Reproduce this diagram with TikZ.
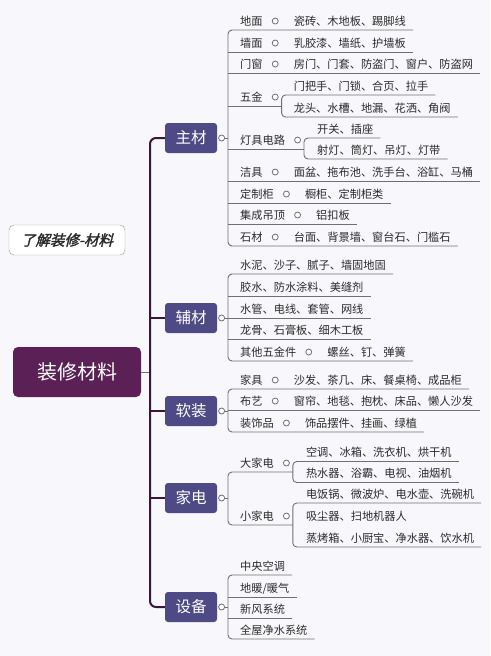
\documentclass[tikz,border=0pt]{standalone}
\usepackage{fontspec}
\setmainfont{Noto Sans CJK SC}
\newfontfamily\titlefont[FakeSlant=0.25,FakeBold=2]{Noto Sans CJK SC}
\usetikzlibrary{positioning}
\definecolor{bgcol}{HTML}{F8F7FC}
\definecolor{rootcol}{HTML}{5B2156}
\definecolor{maincol}{HTML}{4E4A86}
\definecolor{trunkcol}{HTML}{3C1638}
\definecolor{linecol}{HTML}{707070}
\definecolor{textcol}{HTML}{2B2B2B}
\tikzset{
  rootbox/.style={fill=rootcol, rounded corners=5pt, text=white, minimum width=128pt, minimum height=50pt, font=\fontsize{20}{24}\selectfont},
  mainbox/.style={fill=maincol, rounded corners=3pt, text=white, minimum width=52pt, minimum height=30pt, inner sep=0pt, font=\fontsize{15.5}{18}\selectfont},
  titlebox/.style={draw=black!40, fill=white, rounded corners=5pt, minimum width=116pt, minimum height=30pt, text=textcol, font=\titlefont\fontsize{14.5}{17}\selectfont},
  item/.style={anchor=south west, inner xsep=0pt, inner ysep=3pt, text height=10pt, text depth=1.5pt, text=textcol, font=\fontsize{11.2}{13}\selectfont},
  fold/.style={circle, draw=linecol, fill=white, line width=0.8pt, inner sep=0pt, minimum size=6pt},
  branch/.style={draw=linecol, line width=0.9pt, rounded corners=4pt},
  trunk/.style={draw=trunkcol, line width=2pt, rounded corners=6pt},
}
\begin{document}
\begin{tikzpicture}[x=1pt,y=-1pt]
  \fill[bgcol] (0,0) rectangle (490,656);
  \useasboundingbox (0,0) rectangle (490,656);

  % root, title and main topics
  \node[titlebox] (title) at (67,240) {了解装修-材料};
  \node[rootbox] (root) at (77,372) {装修材料};
  \node[mainbox] (zhucai) at (191,138) {主材};
  \node[mainbox] (fucai) at (191,318) {辅材};
  \node[mainbox] (ruanzhuang) at (191,411) {软装};
  \node[mainbox] (jiadian) at (191,498) {家电};
  \node[mainbox] (shebei) at (191,607) {设备};
  \coordinate (trunk) at (150,0);
  \draw[branch] (root.east) -- (trunk |- root.east);
  \draw[trunk] (zhucai.west) -- (trunk |- zhucai.west) -- (trunk |- shebei.west) -- (shebei.west);
  \draw[trunk] (trunk |- fucai.west) -- (fucai.west);
  \draw[trunk] (trunk |- ruanzhuang.west) -- (ruanzhuang.west);
  \draw[trunk] (trunk |- jiadian.west) -- (jiadian.west);

  % zhucai
  \node[fold, right=1pt of zhucai] (zhucai-f) {};
  \coordinate (zc) at (228,138);
  \draw[branch] (zhucai-f) -- (zc);
  \node[item] (dimian) at (240,30) {地面};
  \node[fold, right=9pt of dimian] (dimian-f) {};
  \node[item, right=15pt of dimian-f] (dimian-l) {瓷砖、木地板、踢脚线};
  \node[item] (qiangmian) at (240,52) {墙面};
  \node[fold, right=9pt of qiangmian] (qiangmian-f) {};
  \node[item, right=15pt of qiangmian-f] (qiangmian-l) {乳胶漆、墙纸、护墙板};
  \node[item] (menchuang) at (240,73) {门窗};
  \node[fold, right=9pt of menchuang] (menchuang-f) {};
  \node[item, right=15pt of menchuang-f] (menchuang-l) {房门、门套、防盗门、窗户、防盗网};
  \node[item] (wujin) at (240,106) {五金};
  \node[fold, right=9pt of wujin] (wujin-f) {};
  \coordinate (wj) at ([xshift=3pt]wujin-f.east);
  \node[item] (wujin-a) at ([xshift=12pt,yshift=11pt]wj |- wujin.south) {门把手、门锁、合页、拉手};
  \node[item] (wujin-b) at ([xshift=12pt,yshift=-11pt]wj |- wujin.south) {龙头、水槽、地漏、花洒、角阀};
  \node[item] (dengju) at (240,149) {灯具电路};
  \node[fold, right=9pt of dengju] (dengju-f) {};
  \coordinate (dj) at ([xshift=3pt]dengju-f.east);
  \node[item] (dengju-a) at ([xshift=13pt,yshift=11pt]dj |- dengju.south) {开关、插座};
  \node[item] (dengju-b) at ([xshift=13pt,yshift=-10pt]dj |- dengju.south) {射灯、筒灯、吊灯、灯带};
  \node[item] (jieju) at (240,181) {洁具};
  \node[fold, right=9pt of jieju] (jieju-f) {};
  \node[item, right=15pt of jieju-f] (jieju-l) {面盆、拖布池、洗手台、浴缸、马桶};
  \node[item] (dingzhi) at (240,203) {定制柜};
  \node[fold, right=9pt of dingzhi] (dingzhi-f) {};
  \node[item, right=15pt of dingzhi-f] (dingzhi-l) {橱柜、定制柜类};
  \node[item] (diaoding) at (240,224) {集成吊顶};
  \node[fold, right=9pt of diaoding] (diaoding-f) {};
  \node[item, right=15pt of diaoding-f] (diaoding-l) {铝扣板};
  \node[item] (shicai) at (240,246) {石材};
  \node[fold, right=9pt of shicai] (shicai-f) {};
  \node[item, right=15pt of shicai-f] (shicai-l) {台面、背景墙、窗台石、门槛石};
  \draw[branch] ([xshift=7pt]dimian-l.south east) -- (zc |- dimian.south) -- (zc |- shicai.south) -- ([xshift=7pt]shicai-l.south east);
  \draw[branch] (zc |- qiangmian.south) -- ([xshift=7pt]qiangmian-l.south east);
  \draw[branch] (zc |- menchuang.south) -- ([xshift=7pt]menchuang-l.south east);
  \draw[branch] (zc |- wujin.south) -- (wj |- wujin.south);
  \draw[branch] ([xshift=7pt]wujin-a.south east) -- (wj |- wujin-a.south) -- (wj |- wujin-b.south) -- ([xshift=7pt]wujin-b.south east);
  \draw[branch] (zc |- dengju.south) -- (dj |- dengju.south);
  \draw[branch] ([xshift=7pt]dengju-a.south east) -- (dj |- dengju-a.south) -- (dj |- dengju-b.south) -- ([xshift=7pt]dengju-b.south east);
  \draw[branch] (zc |- jieju.south) -- ([xshift=7pt]jieju-l.south east);
  \draw[branch] (zc |- dingzhi.south) -- ([xshift=7pt]dingzhi-l.south east);
  \draw[branch] (zc |- diaoding.south) -- ([xshift=7pt]diaoding-l.south east);

  % fucai
  \node[fold, right=1pt of fucai] (fucai-f) {};
  \coordinate (fc) at (228,318);
  \draw[branch] (fucai-f) -- (fc);
  \node[item] (shuini) at (240,274) {水泥、沙子、腻子、墙固地固};
  \node[item] (jiaoshui) at (240,296) {胶水、防水涂料、美缝剂};
  \node[item] (shuiguan) at (240,318) {水管、电线、套管、网线};
  \node[item] (longgu) at (240,339) {龙骨、石膏板、细木工板};
  \node[item] (wujinjian) at (240,361) {其他五金件};
  \node[fold, right=9pt of wujinjian] (wujinjian-f) {};
  \node[item, right=15pt of wujinjian-f] (wujinjian-l) {螺丝、钉、弹簧};
  \draw[branch] ([xshift=7pt]shuini.south east) -- (fc |- shuini.south) -- (fc |- wujinjian.south) -- ([xshift=7pt]wujinjian-l.south east);
  \draw[branch] (fc |- jiaoshui.south) -- ([xshift=7pt]jiaoshui.south east);
  \draw[branch] (fc |- shuiguan.south) -- ([xshift=7pt]shuiguan.south east);
  \draw[branch] (fc |- longgu.south) -- ([xshift=7pt]longgu.south east);

  % ruanzhuang
  \node[fold, right=1pt of ruanzhuang] (ruanzhuang-f) {};
  \coordinate (rz) at (228,411);
  \draw[branch] (ruanzhuang-f) -- (rz);
  \node[item] (jiaju) at (240,389) {家具};
  \node[fold, right=9pt of jiaju] (jiaju-f) {};
  \node[item, right=15pt of jiaju-f] (jiaju-l) {沙发、茶几、床、餐桌椅、成品柜};
  \node[item] (buyi) at (240,410) {布艺};
  \node[fold, right=9pt of buyi] (buyi-f) {};
  \node[item, right=15pt of buyi-f] (buyi-l) {窗帘、地毯、抱枕、床品、懒人沙发};
  \node[item] (shipin) at (240,432) {装饰品};
  \node[fold, right=9pt of shipin] (shipin-f) {};
  \node[item, right=15pt of shipin-f] (shipin-l) {饰品摆件、挂画、绿植};
  \draw[branch] ([xshift=7pt]jiaju-l.south east) -- (rz |- jiaju.south) -- (rz |- shipin.south) -- ([xshift=7pt]shipin-l.south east);
  \draw[branch] (rz |- buyi.south) -- ([xshift=7pt]buyi-l.south east);

  % jiadian
  \node[fold, right=1pt of jiadian] (jiadian-f) {};
  \coordinate (jd) at (228,498);
  \draw[branch] (jiadian-f) -- (jd);
  \node[item] (dajiadian) at (240,472) {大家电};
  \node[fold, right=9pt of dajiadian] (dajiadian-f) {};
  \coordinate (dj2) at ([xshift=3pt]dajiadian-f.east);
  \node[item] (dajiadian-a) at ([xshift=13pt,yshift=10.5pt]dj2 |- dajiadian.south) {空调、冰箱、洗衣机、烘干机};
  \node[item] (dajiadian-b) at ([xshift=13pt,yshift=-10.5pt]dj2 |- dajiadian.south) {热水器、浴霸、电视、油烟机};
  \node[item] (xiaojiadian) at (240,525) {小家电};
  \node[fold, right=9pt of xiaojiadian] (xiaojiadian-f) {};
  \coordinate (xj) at ([xshift=3pt]xiaojiadian-f.east);
  \node[item] (xiaojiadian-a) at ([xshift=13pt,yshift=22pt]xj |- xiaojiadian.south) {电饭锅、微波炉、电水壶、洗碗机};
  \node[item] (xiaojiadian-b) at ([xshift=13pt]xj |- xiaojiadian.south) {吸尘器、扫地机器人};
  \node[item] (xiaojiadian-c) at ([xshift=13pt,yshift=-22pt]xj |- xiaojiadian.south) {蒸烤箱、小厨宝、净水器、饮水机};
  \draw[branch] (dj2 |- dajiadian.south) -- (jd |- dajiadian.south) -- (jd |- xiaojiadian.south) -- (xj |- xiaojiadian.south);
  \draw[branch] ([xshift=7pt]dajiadian-a.south east) -- (dj2 |- dajiadian-a.south) -- (dj2 |- dajiadian-b.south) -- ([xshift=7pt]dajiadian-b.south east);
  \draw[branch] ([xshift=7pt]xiaojiadian-a.south east) -- (xj |- xiaojiadian-a.south) -- (xj |- xiaojiadian-c.south) -- ([xshift=7pt]xiaojiadian-c.south east);

  % shebei
  \node[fold, right=1pt of shebei] (shebei-f) {};
  \coordinate (sb) at (228,607);
  \draw[branch] (shebei-f) -- (sb);
  \node[item] (kongtiao) at (240,575) {中央空调};
  \node[item] (dinuan) at (240,597) {地暖/暖气};
  \node[item] (xinfeng) at (240,618) {新风系统};
  \node[item] (jingshui) at (240,639) {全屋净水系统};
  \draw[branch] ([xshift=7pt]kongtiao.south east) -- (sb |- kongtiao.south) -- (sb |- jingshui.south) -- ([xshift=7pt]jingshui.south east);
  \draw[branch] (sb |- dinuan.south) -- ([xshift=7pt]dinuan.south east);
  \draw[branch] (sb |- xinfeng.south) -- ([xshift=7pt]xinfeng.south east);
\end{tikzpicture}
\end{document}
